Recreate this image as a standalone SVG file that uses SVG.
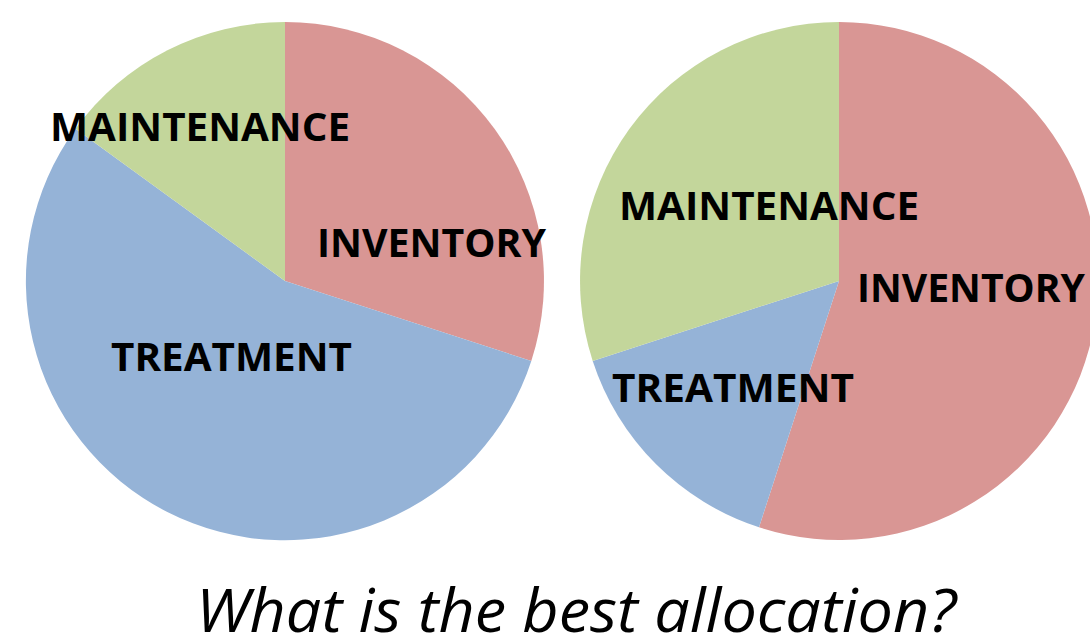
<svg xmlns="http://www.w3.org/2000/svg" width="1090" height="639" viewBox="0 0 1090 639">
<style>
.inv{fill:#D99694}
.trt{fill:#95B3D7}
.mnt{fill:#C3D69B}
.lbl{font-family:"Open Sans","Liberation Sans",sans-serif;font-weight:700;font-size:40px;fill:#000}
.ttl{font-family:"Open Sans","Liberation Sans",sans-serif;font-style:italic;font-size:61px;fill:#000}
</style>
<rect width="1090" height="639" fill="#fff"/>
<g id="pie-left">
<path class="inv" d="M285,281 L285,22 A259,259 0 0 1 531.3,361 Z"/>
<path class="trt" d="M285,281 L531.3,361 A259,259 0 1 1 75.5,128.8 Z"/>
<path class="mnt" d="M285,281 L75.5,128.8 A259,259 0 0 1 285,22 Z"/>
<text class="lbl" x="50" y="141" textLength="300" lengthAdjust="spacingAndGlyphs">MAINTENANCE</text>
<text class="lbl" x="317" y="257" textLength="229" lengthAdjust="spacingAndGlyphs">INVENTORY</text>
<text class="lbl" x="111" y="371" textLength="241" lengthAdjust="spacingAndGlyphs">TREATMENT</text>
</g>
<g id="pie-right">
<path class="inv" d="M839,281 L839,22 A259,259 0 1 1 759,527.3 Z"/>
<path class="trt" d="M839,281 L759,527.3 A259,259 0 0 1 592.7,361 Z"/>
<path class="mnt" d="M839,281 L592.7,361 A259,259 0 0 1 839,22 Z"/>
<text class="lbl" x="619" y="220" textLength="300" lengthAdjust="spacingAndGlyphs">MAINTENANCE</text>
<text class="lbl" x="857" y="302" textLength="228" lengthAdjust="spacingAndGlyphs">INVENTORY</text>
<text class="lbl" x="612" y="402" textLength="242" lengthAdjust="spacingAndGlyphs">TREATMENT</text>
</g>
<g id="title">
<text class="ttl" x="196" y="632" textLength="760" lengthAdjust="spacingAndGlyphs">What is the best allocation?</text>
</g>
</svg>
